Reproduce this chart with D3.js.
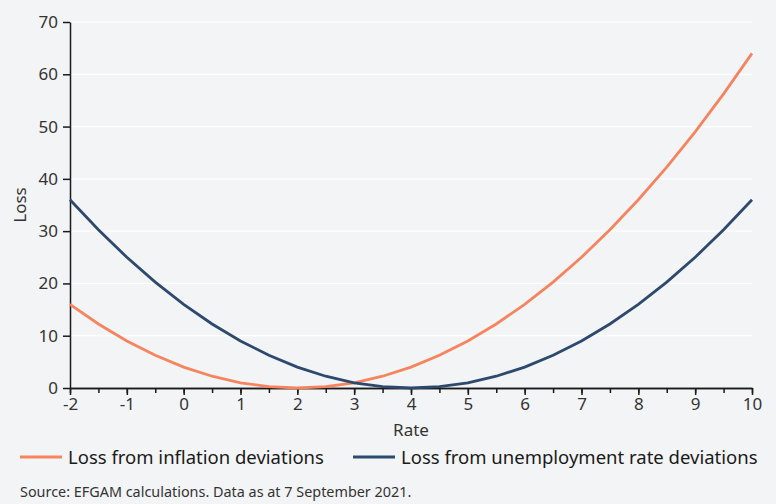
<!DOCTYPE html>
<html>
<head>
<meta charset="utf-8">
<script src="https://cdn.jsdelivr.net/npm/d3@7"></script>
<style>
  body { margin: 0; background: #f3f4f6; }
  svg { display: block; font-family: "Noto Sans", sans-serif; }
</style>
</head>
<body>
<script>
// rate values along the x axis
var rates = [-2, -1.5, -1, -0.5, 0, 0.5, 1, 1.5, 2, 2.5, 3, 3.5, 4, 4.5, 5, 5.5, 6, 6.5, 7, 7.5, 8, 8.5, 9, 9.5, 10];
var inflationLoss = [16, 12.25, 9, 6.25, 4, 2.25, 1, 0.25, 0, 0.25, 1, 2.25, 4, 6.25, 9, 12.25, 16, 20.25, 25, 30.25, 36, 42.25, 49, 56.25, 64];
var unemploymentLoss = [36, 30.25, 25, 20.25, 16, 12.25, 9, 6.25, 4, 2.25, 1, 0.25, 0, 0.25, 1, 2.25, 4, 6.25, 9, 12.25, 16, 20.25, 25, 30.25, 36];
var xTicks = [-2, -1, 0, 1, 2, 3, 4, 5, 6, 7, 8, 9, 10];
var yTicks = [0, 10, 20, 30, 40, 50, 60, 70];
var seriesNames = ["Loss from inflation deviations", "Loss from unemployment rate deviations"];
var colors = ["#f7845e", "#2d4a6e"];

var width = 776, height = 504;
var margin = {top: 22, right: 24, bottom: 116, left: 70};

var svg = d3.select("body").append("svg")
    .attr("width", width)
    .attr("height", height)
    .attr("style", "background-color:#f3f4f6");

var xScale = d3.scaleLinear().domain([-2, 10]).range([margin.left, width - margin.right]);
var yScale = d3.scaleLinear().domain([0, 70]).range([height - margin.bottom, margin.top]);

// gridlines
svg.append("g").selectAll("line")
    .data(yTicks.slice(1))
    .enter().append("line")
    .attr("x1", xScale(-2)).attr("x2", xScale(10))
    .attr("y1", function (d) { return yScale(d); })
    .attr("y2", function (d) { return yScale(d); })
    .attr("stroke", "#ffffff")
    .attr("stroke-width", 1.2);

// y axis
var yAxis = svg.append("g")
    .attr("transform", "translate(" + margin.left + ",0)")
    .call(d3.axisLeft(yScale).tickValues(yTicks).tickSize(7).tickPadding(5).tickSizeOuter(0));

// x axis, minor ticks at halves
var xAxisMinor = svg.append("g")
    .attr("transform", "translate(0," + yScale(0) + ")")
    .call(d3.axisBottom(xScale).tickValues(rates).tickSize(5).tickFormat("").tickSizeOuter(0));
var xAxis = svg.append("g")
    .attr("transform", "translate(0," + yScale(0) + ")")
    .call(d3.axisBottom(xScale).tickValues(xTicks).tickSize(7).tickPadding(3).tickSizeOuter(0)
        .tickFormat(function (d) { return String(d); }));

[yAxis, xAxis, xAxisMinor].forEach(function (g) {
    g.selectAll("path, line").attr("stroke", "#1a1a1a").attr("stroke-width", 1.5);
    g.selectAll("text").attr("fill", "#333333").style("font-size", "17px").style("font-family", "Noto Sans, sans-serif");
});

// axis titles
svg.append("text")
    .attr("x", xScale(4)).attr("y", 436)
    .attr("text-anchor", "middle")
    .attr("fill", "#333333")
    .style("font-size", "17px")
    .text("Rate");
svg.append("text")
    .attr("transform", "translate(26," + yScale(35) + ") rotate(-90)")
    .attr("text-anchor", "middle")
    .attr("fill", "#333333")
    .style("font-size", "17px")
    .text("Loss");

// lines
var line = d3.line()
    .x(function (d, i) { return xScale(rates[i]); })
    .y(function (d) { return yScale(d); });

[inflationLoss, unemploymentLoss].forEach(function (values, i) {
    svg.append("path")
        .datum(values)
        .attr("fill", "none")
        .attr("stroke", colors[i])
        .attr("stroke-width", 2.8)
        .attr("d", line);
});

// legend
var legendX = [20, 353];
seriesNames.forEach(function (name, i) {
    var g = svg.append("g").attr("transform", "translate(" + legendX[i] + ",457)");
    g.append("line")
        .attr("x1", 0).attr("x2", 42)
        .attr("y1", 0).attr("y2", 0)
        .attr("stroke", colors[i])
        .attr("stroke-width", 3);
    g.append("text")
        .attr("x", 48).attr("y", 6.5)
        .attr("fill", "#1a1a1a")
        .style("font-size", "18.5px")
        .text(name);
});

// source note
svg.append("text")
    .attr("x", 20).attr("y", 497)
    .attr("fill", "#333333")
    .style("font-size", "14.4px")
    .text("Source: EFGAM calculations. Data as at 7 September 2021.");
</script>
</body>
</html>
